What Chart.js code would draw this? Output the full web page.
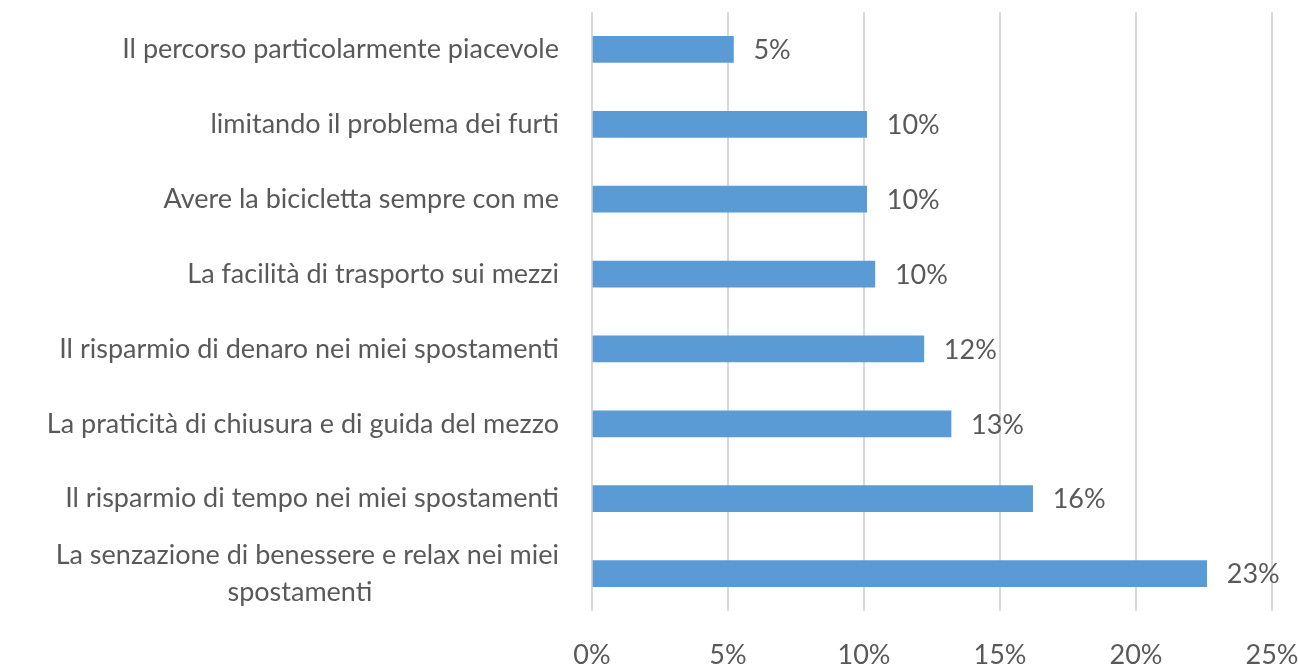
<!DOCTYPE html>
<html lang="it">
<head>
  <meta charset="UTF-8">
  <title>Motivazioni</title>
  <script src="https://cdn.jsdelivr.net/npm/chart.js"></script>
  <style>
    html, body { margin: 0; padding: 0; background: #fff; }
    #wrap { width: 1298px; height: 664px; }
  </style>
  <script>
    addEventListener("DOMContentLoaded", init);

    const categories = [
      "Il percorso particolarmente piacevole",
      "limitando il problema dei furti",
      "Avere la bicicletta sempre con me",
      "La facilità di trasporto sui mezzi",
      "Il risparmio di denaro nei miei spostamenti",
      "La praticità di chiusura e di guida del mezzo",
      "Il risparmio di tempo nei miei spostamenti",
      ["La senzazione di benessere e relax nei miei", "spostamenti" + " ".repeat(27)]
    ];
    const percentages = [5.2, 10.1, 10.1, 10.4, 12.2, 13.2, 16.2, 22.6];
    const xTicks = [0, 5, 10, 15, 20, 25];

    const textColor = "#595959";
    const fontFamily = "Lato, sans-serif";
    const fontSize = 27;

    // writes the value next to every bar
    const valueLabels = {
      id: "valueLabels",
      afterDatasetsDraw(chart) {
        let ctx = chart.ctx;
        let meta = chart.getDatasetMeta(0);
        ctx.save();
        ctx.font = fontSize + "px " + fontFamily;
        ctx.fillStyle = textColor;
        ctx.textAlign = "left";
        ctx.textBaseline = "middle";
        meta.data.forEach((bar, i) => {
          ctx.fillText(Math.round(percentages[i]) + "%", bar.x + 20, bar.y + 1);
        });
        ctx.restore();
      }
    };

    function init() {
      let canvas = document.getElementById("myCanvas");
      new Chart(canvas, {
        type: "bar",
        data: {
          labels: categories,
          datasets: [{
            data: percentages,
            backgroundColor: "#5B9BD5",
            barThickness: 26
          }]
        },
        plugins: [valueLabels],
        options: {
          indexAxis: "y",
          responsive: true,
          maintainAspectRatio: false,
          animation: false,
          layout: { padding: { top: 12, right: 26, left: 0, bottom: 0 } },
          plugins: {
            legend: { display: false },
            tooltip: { enabled: false }
          },
          scales: {
            x: {
              min: 0,
              max: 25,
              afterBuildTicks(scale) {
                scale.ticks = xTicks.map(v => ({ value: v }));
              },
              afterFit(scale) {
                scale.height = 53;
                scale.paddingLeft = 0;
                scale.paddingRight = 0;
              },
              border: { display: false },
              grid: { color: "#D9D9D9", lineWidth: 2, drawTicks: false },
              ticks: {
                color: textColor,
                font: { family: fontFamily, size: fontSize },
                padding: 28,
                maxRotation: 0,
                callback: v => v + "%"
              }
            },
            y: {
              afterFit(scale) {
                scale.width = 592;
                scale.paddingTop = 0;
                scale.paddingBottom = 0;
              },
              border: { display: false },
              grid: { display: false },
              ticks: {
                autoSkip: false,
                color: textColor,
                font: { family: fontFamily, size: fontSize, lineHeight: 1.37 },
                padding: 25
              }
            }
          }
        }
      });
    }
  </script>
</head>
<body>
  <div id="wrap"><canvas id="myCanvas"></canvas></div>
</body>
</html>
